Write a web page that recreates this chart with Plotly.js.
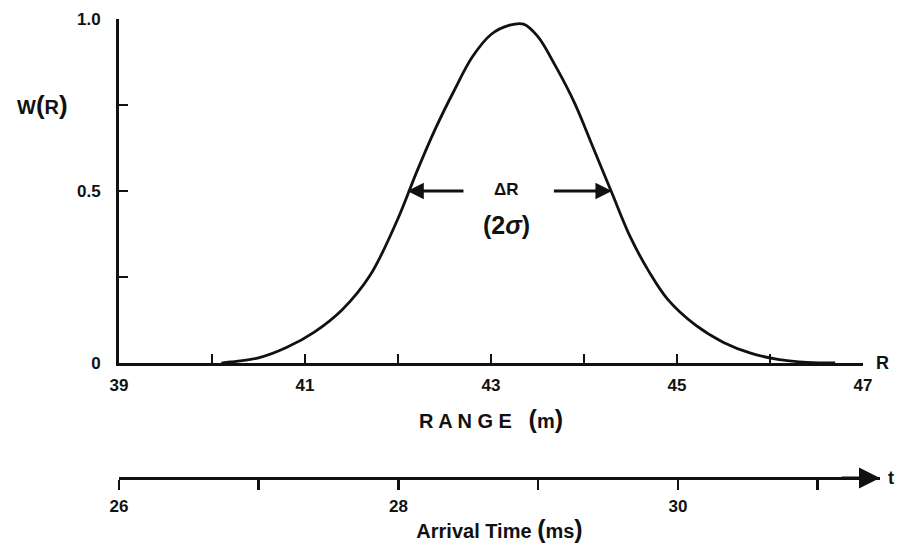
<!DOCTYPE html>
<html>
<head>
<meta charset="utf-8">
<script src="https://cdn.plot.ly/plotly-3.0.1.min.js"></script>
<style>html,body{margin:0;padding:0;background:#fff;}#chart{width:898px;height:551px;}</style>
</head>
<body>
<div id="chart"></div>
<script>
// Range (m) and normalised weighting W(R)
const rangeM = [40.1, 40.2, 40.5, 40.8, 41.1, 41.4, 41.7, 42.0, 42.2, 42.4, 42.6, 42.8, 43.0, 43.2, 43.35, 43.5, 43.7, 43.9, 44.1, 44.3, 44.5, 44.7, 44.9, 45.2, 45.5, 45.8, 46.1, 46.4, 46.7];
const weightW = [0, 0.003, 0.015, 0.045, 0.09, 0.155, 0.255, 0.42, 0.555, 0.68, 0.79, 0.89, 0.955, 0.982, 0.985, 0.95, 0.86, 0.755, 0.625, 0.494, 0.365, 0.265, 0.185, 0.11, 0.06, 0.028, 0.01, 0.002, 0];

const rangeTicks = [39, 40, 41, 42, 43, 44, 45, 46, 47];
const rangeTickText = ['39', '', '41', '', '43', '', '45', '', '47'];
const yTicks = [0, 0.25, 0.5, 0.75, 1.0];
const yTickText = ['0', '', '0.5', '', '1.0'];
const timeTicks = [26, 27, 28, 29, 30, 31];
const timeTickText = ['26', '', '28', '', '30', ''];

const halfLeft = 42.1, halfRight = 44.3, halfLevel = 0.5;

const F = "'Liberation Sans', Arial, sans-serif";
const ink = '#111';

const traces = [
  {x: [timeTicks[0], timeTicks[timeTicks.length-1]], y: [0, 0], type: 'scatter', mode: 'lines',
   line: {color: 'rgba(0,0,0,0)', width: 0}, xaxis: 'x2', yaxis: 'y', hoverinfo: 'skip', showlegend: false},
  {x: rangeM, y: weightW, type: 'scatter', mode: 'lines',
   line: {color: ink, width: 2.8, shape: 'spline', smoothing: 1.0},
   xaxis: 'x', yaxis: 'y', hoverinfo: 'skip', showlegend: false, cliponaxis: false}
];

const layout = {
  width: 898, height: 551,
  margin: {l: 119, r: 18, t: 19, b: 73},
  paper_bgcolor: '#fff', plot_bgcolor: 'rgba(0,0,0,0)',
  font: {family: F, color: ink, size: 14},
  showlegend: false,
  xaxis: {
    domain: [0, 0.9777], range: [39, 47], anchor: 'y',
    showline: true, linecolor: ink, linewidth: 3, showgrid: false, zeroline: false,
    ticks: 'inside', ticklen: 9, tickwidth: 2.5, tickcolor: ink,
    tickvals: rangeTicks, ticktext: rangeTickText,
    tickfont: {family: F, size: 17, color: ink, weight: 'bold'},
    ticklabelstandoff: 5,
    title: {text: 'R A N G E&nbsp;&nbsp;&nbsp;<span style="font-size:25px">(</span>m<span style="font-size:25px">)</span>',
            font: {family: F, size: 20, color: ink, weight: 'bold'}, standoff: 20}
  },
  xaxis2: {
    domain: [0, 1], range: [26, 31.446], anchor: 'free', position: 0,
    showline: true, linecolor: ink, linewidth: 3, showgrid: false, zeroline: false,
    ticks: 'outside', ticklen: 10, tickwidth: 2.5, tickcolor: ink,
    tickvals: timeTicks, ticktext: timeTickText,
    tickfont: {family: F, size: 17, color: ink, weight: 'bold'},
    ticklabelstandoff: 2,
    title: {text: 'Arrival Time <span style="font-size:25px">(</span>ms<span style="font-size:25px">)</span>',
            font: {family: F, size: 20, color: ink, weight: 'bold'}, standoff: 8}
  },
  yaxis: {
    domain: [0.2505, 1], range: [0, 1],
    showline: true, linecolor: ink, linewidth: 3, showgrid: false, zeroline: false,
    ticks: 'inside', ticklen: 9, tickwidth: 2.5, tickcolor: ink,
    tickvals: yTicks, ticktext: yTickText,
    tickfont: {family: F, size: 17, color: ink, weight: 'bold'},
    ticklabelstandoff: 12
  },
  annotations: [
    {xref: 'paper', yref: 'y', x: -0.137, y: 0.75, text: 'W<span style="font-size:26px">(</span>R<span style="font-size:26px">)</span>', showarrow: false,
     font: {family: F, size: 20, color: ink, weight: 'bold'}, xanchor: 'left'},
    {xref: 'paper', yref: 'y', x: 0.992, y: 0, text: 'R', showarrow: false,
     font: {family: F, size: 18, color: ink, weight: 'bold'}, xanchor: 'left', yanchor: 'middle'},
    {xref: 'paper', yref: 'paper', x: 1.0, y: 0, text: 't', showarrow: false,
     font: {family: F, size: 18, color: ink, weight: 'bold'}, xanchor: 'left', yanchor: 'middle', xshift: 6},
    {xref: 'x2', yref: 'paper', x: 31.446, y: 0, text: '', showarrow: true,
     axref: 'pixel', ayref: 'pixel', ax: -40, ay: 0,
     arrowhead: 2, arrowsize: 1.4, arrowwidth: 3, arrowcolor: ink, standoff: 0},
    {xref: 'x', yref: 'y', x: halfLeft, y: halfLevel, axref: 'x', ayref: 'y', ax: 42.72, ay: halfLevel,
     text: '', showarrow: true, arrowhead: 2, arrowsize: 1.1, arrowwidth: 3, arrowcolor: ink, standoff: 0},
    {xref: 'x', yref: 'y', x: halfRight, y: halfLevel, axref: 'x', ayref: 'y', ax: 43.66, ay: halfLevel,
     text: '', showarrow: true, arrowhead: 2, arrowsize: 1.1, arrowwidth: 3, arrowcolor: ink, standoff: 0},
    {xref: 'x', yref: 'y', x: 43.17, y: 0.505, text: 'ΔR', showarrow: false,
     font: {family: F, size: 17, color: ink, weight: 'bold'}},
    {xref: 'x', yref: 'y', x: 43.17, y: 0.40, text: '(2<i>σ</i>)', showarrow: false,
     font: {family: F, size: 25, color: ink, weight: 'bold'}}
  ]
};

Plotly.newPlot('chart', traces, layout, {displayModeBar: false, staticPlot: true});
</script>
</body>
</html>
